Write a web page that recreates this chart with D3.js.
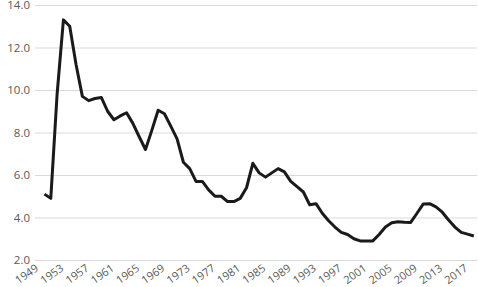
<!DOCTYPE html>
<html>
<head>
<meta charset="utf-8">
<script src="https://cdn.jsdelivr.net/npm/d3@7"></script>
<style>
  html, body { margin: 0; padding: 0; background: #fff; }
  svg { display: block; }
  .axis text { font-family: "Open Sans", sans-serif; font-size: 11.5px; fill: #595959; }
  .x-axis text { font-size: 11px; }
</style>
</head>
<body>
<div id="chart"></div>
<script>
// 年份（1949 无数据）
const years = d3.range(1949, 2019);
// 数值，从 1950 年开始
const values = [
  null,
  5.1, 4.9, 9.8, 13.3, 13.0, 11.2, 9.7, 9.5, 9.6, 9.65,
  9.0, 8.6, 8.78, 8.93, 8.43, 7.8, 7.2, 8.1, 9.05, 8.88,
  8.3, 7.7, 6.6, 6.3, 5.7, 5.7, 5.3, 5.0, 5.0, 4.75,
  4.75, 4.9, 5.4, 6.55, 6.1, 5.9, 6.1, 6.3, 6.15, 5.7,
  5.45, 5.2, 4.6, 4.65, 4.2, 3.85, 3.55, 3.3, 3.2, 3.0,
  2.9, 2.9, 2.9, 3.2, 3.55, 3.75, 3.8, 3.78, 3.77, 4.2,
  4.64, 4.65, 4.5, 4.25, 3.88, 3.55, 3.3, 3.22, 3.13
];
const yTicks = [2, 4, 6, 8, 10, 12, 14];
const xTicks = years.filter((d, i) => i % 4 === 0);

const width = 478, height = 287;
const margin = { top: 5, right: 1, bottom: 27, left: 35 };

const svg = d3.select("#chart").append("svg")
  .attr("width", width)
  .attr("height", height);

const x = d3.scaleBand()
  .domain(years)
  .range([margin.left, width - margin.right]);

const y = d3.scaleLinear()
  .domain([2, 14])
  .range([height - margin.bottom, margin.top]);

// 网格线 + y 轴
const yAxis = svg.append("g")
  .attr("class", "axis")
  .attr("transform", `translate(${margin.left},0)`)
  .call(d3.axisLeft(y)
    .tickValues(yTicks)
    .tickFormat(d3.format(".1f"))
    .tickSize(-(width - margin.left - margin.right))
    .tickPadding(5));
yAxis.select(".domain").remove();
yAxis.selectAll(".tick line").attr("stroke", "#d9d9d9").attr("stroke-width", 1);

// x 轴标签（旋转）
const xAxis = svg.append("g")
  .attr("class", "axis x-axis")
  .attr("transform", `translate(0,${height - margin.bottom})`)
  .call(d3.axisBottom(x).tickValues(xTicks).tickSize(0).tickPadding(0));
xAxis.select(".domain").remove();
xAxis.selectAll(".tick text")
  .attr("text-anchor", "end")
  .attr("dy", 0)
  .attr("y", 0)
  .attr("transform", "translate(1,10) rotate(-35)");

// 折线
const line = d3.line()
  .defined(d => d.v != null)
  .x(d => x(d.year) + x.bandwidth() / 2)
  .y(d => y(d.v));

svg.append("path")
  .datum(years.map((yr, i) => ({ year: yr, v: values[i] })))
  .attr("fill", "none")
  .attr("stroke", "#1a1a1a")
  .attr("stroke-width", 3)
  .attr("stroke-linejoin", "round")
  .attr("d", line);
</script>
</body>
</html>
